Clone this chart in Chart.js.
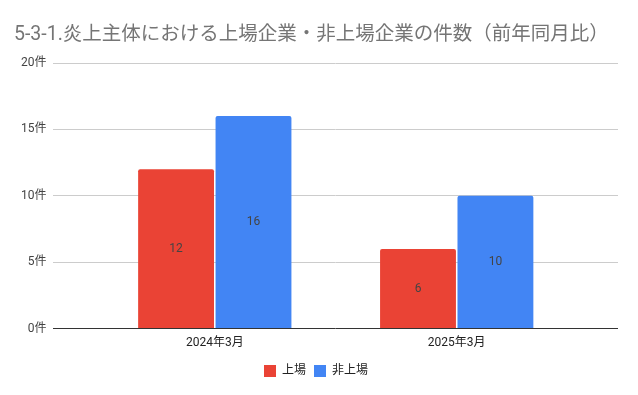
<!DOCTYPE html>
<html>
<head>
<meta charset="utf-8">
<script src="https://cdn.jsdelivr.net/npm/chart.js@4.4.1/dist/chart.umd.min.js"></script>
<style>
  body { margin: 0; background: #fff; }
  #wrap { width: 638px; height: 395px; }
</style>
</head>
<body>
<div id="wrap"><canvas id="chart"></canvas></div>
<script>
var titleText = '5-3-1.炎上主体における上場企業・非上場企業の件数（前年同月比）';
var months = ['2024年3月', '2025年3月'];
var listed = [12, 6];
var unlisted = [16, 10];
var yTicks = [0, 5, 10, 15, 20];

var fontFamily = "Roboto, 'Noto Sans CJK JP', sans-serif";

// numbers drawn in the middle of each bar
var barLabels = {
    id: 'barLabels',
    afterDatasetsDraw: function (chart) {
        var ctx = chart.ctx;
        ctx.save();
        ctx.font = '12px ' + fontFamily;
        ctx.fillStyle = '#444';
        ctx.textAlign = 'center';
        ctx.textBaseline = 'middle';
        chart.data.datasets.forEach(function (ds, i) {
            chart.getDatasetMeta(i).data.forEach(function (bar, j) {
                ctx.fillText(ds.data[j], bar.x, (bar.y + bar.base) / 2);
            });
        });
        ctx.restore();
    }
};

new Chart(document.getElementById('chart'), {
    type: 'bar',
    data: {
        labels: months,
        datasets: [
            { label: '上場', data: listed, backgroundColor: '#EA4335', borderRadius: 2, borderSkipped: 'bottom' },
            { label: '非上場', data: unlisted, backgroundColor: '#4285F4', borderRadius: 2, borderSkipped: 'bottom' }
        ]
    },
    options: {
        responsive: true,
        maintainAspectRatio: false,
        animation: false,
        categoryPercentage: 0.64,
        barPercentage: 0.98,
        layout: { padding: { left: 14, right: 20, bottom: 8 } },
        plugins: {
            title: {
                display: true,
                text: titleText,
                align: 'start',
                color: '#757575',
                font: { family: fontFamily, size: 19.5, weight: 'normal' },
                padding: { top: 23, bottom: 16.6 }
            },
            legend: {
                position: 'bottom',
                labels: {
                    color: '#222',
                    font: { family: fontFamily, size: 12 },
                    boxWidth: 12,
                    boxHeight: 12,
                    padding: 8
                }
            },
            tooltip: { enabled: false }
        },
        scales: {
            x: {
                grid: { display: false, drawTicks: false },
                border: { display: false },
                ticks: { color: '#222', font: { family: fontFamily, size: 12 }, padding: 7 },
                afterBuildTicks: function (scale) {
                    // widen the outer margins so the groups sit like the sheet chart
                    scale._startValue = -2 / 3;
                    scale._valueRange = 7 / 3;
                }
            },
            y: {
                min: yTicks[0],
                max: yTicks[yTicks.length - 1],
                afterBuildTicks: function (scale) {
                    scale.ticks = yTicks.map(function (v) { return { value: v }; });
                },
                grid: {
                    drawTicks: false,
                    color: function (c) { return c.tick && c.tick.value === 0 ? '#333' : '#ccc'; }
                },
                border: { display: false },
                ticks: {
                    color: '#444',
                    font: { family: fontFamily, size: 12 },
                    padding: 7,
                    callback: function (v) { return v + '件'; }
                }
            }
        }
    },
    plugins: [barLabels]
});
</script>
</body>
</html>
